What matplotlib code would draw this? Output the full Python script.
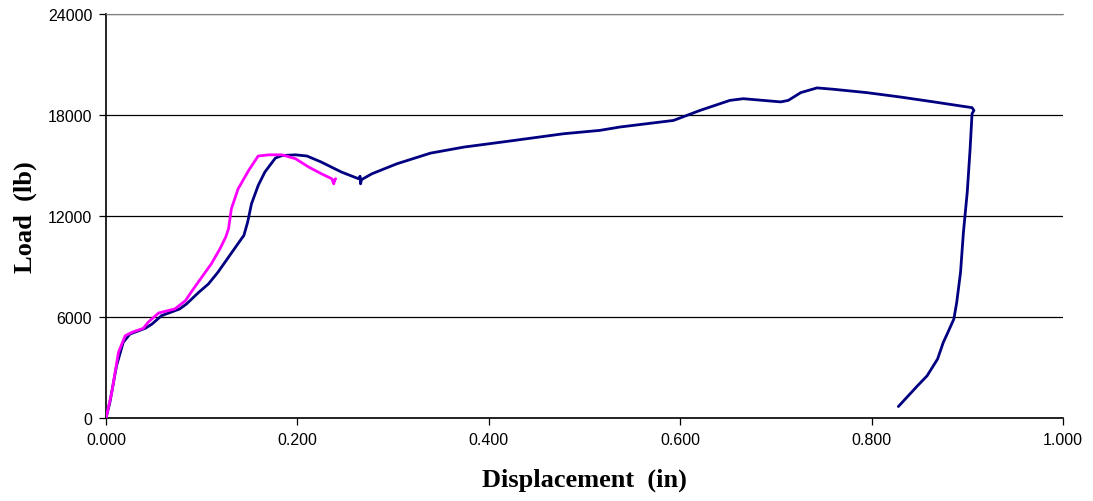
import matplotlib.pyplot as plt

# datos
x_navy = [0.000, 0.004, 0.011, 0.018, 0.025, 0.041, 0.048, 0.058, 0.077, 0.084,
          0.097, 0.107, 0.117, 0.128, 0.142, 0.144, 0.148, 0.152, 0.159, 0.166,
          0.177, 0.184, 0.198, 0.210, 0.225, 0.246, 0.264, 0.2655, 0.266, 0.267,
          0.278, 0.304, 0.339, 0.374, 0.426, 0.478, 0.516, 0.537, 0.593, 0.621,
          0.652, 0.666, 0.705, 0.713, 0.726, 0.743, 0.760, 0.795, 0.830, 0.865,
          0.893, 0.905, 0.907, 0.905, 0.903, 0.900, 0.896, 0.893, 0.889, 0.886,
          0.879, 0.875, 0.869, 0.858, 0.848, 0.828]
y_navy = [0, 930, 3110, 4500, 4990, 5330, 5580, 6080, 6480, 6770,
          7470, 7960, 8660, 9550, 10680, 10830, 11630, 12710, 13800, 14600,
          15430, 15580, 15620, 15550, 15190, 14600, 14200, 14350, 13900, 14150,
          14500, 15090, 15720, 16080, 16470, 16870, 17070, 17270, 17660, 18260,
          18850, 18950, 18760, 18850, 19310, 19590, 19510, 19310, 19050, 18760,
          18520, 18420, 18250, 18060, 15980, 13410, 11030, 8660, 6870, 5880,
          4990, 4500, 3510, 2510, 1920, 690]

x_pink = [0.000, 0.006, 0.013, 0.020, 0.027, 0.039, 0.044, 0.055, 0.072, 0.083,
          0.090, 0.100, 0.110, 0.119, 0.125, 0.128, 0.131, 0.138, 0.149, 0.159,
          0.170, 0.184, 0.198, 0.212, 0.225, 0.236, 0.238, 0.239, 0.238, 0.240]
y_pink = [0, 1530, 3900, 4890, 5090, 5330, 5690, 6240, 6480, 6970,
          7560, 8360, 9150, 10040, 10730, 11230, 12420, 13600, 14690, 15550,
          15620, 15620, 15390, 14890, 14500, 14200, 13900, 14150, 14050, 14200]

x_ticks = [0.0, 0.2, 0.4, 0.6, 0.8, 1.0]
y_ticks = [0, 6000, 12000, 18000, 24000]

fig = plt.figure(figsize=(10.93, 5.02), dpi=100)
ax = fig.add_axes([0.097, 0.165, 0.8755, 0.806])

ax.plot(x_navy, y_navy, color='#000080', lw=2.0, zorder=3,
        solid_joinstyle='round', solid_capstyle='round')
ax.plot(x_pink, y_pink, color='#FF00FF', lw=2.0, zorder=3,
        solid_joinstyle='round', solid_capstyle='round')

ax.set_xlim(0, 1.0)
ax.set_ylim(0, 24000)
ax.set_xticks(x_ticks)
ax.set_xticklabels([f"{v:.3f}" for v in x_ticks])
ax.set_yticks(y_ticks)
ax.set_yticklabels([str(v) for v in y_ticks])
ax.yaxis.grid(True, color='black', lw=0.9)
ax.set_axisbelow(True)

for lab in ax.get_xticklabels() + ax.get_yticklabels():
    lab.set_fontfamily('Liberation Sans')
    lab.set_fontsize(11.5)
ax.tick_params(direction='out', length=5, width=0.9, color='black', pad=5)

ax.spines['right'].set_visible(False)
ax.spines['top'].set_color('#808080')
ax.spines['left'].set_linewidth(1.2)
ax.spines['bottom'].set_linewidth(1.2)

ax.set_xlabel("Displacement  (in)", fontfamily='Liberation Serif', fontweight='bold',
              fontsize=19, labelpad=15)
ax.set_ylabel("Load  (lb)", fontfamily='Liberation Serif', fontweight='bold',
              fontsize=19, labelpad=8)

fig.savefig("out.png", dpi=100)
